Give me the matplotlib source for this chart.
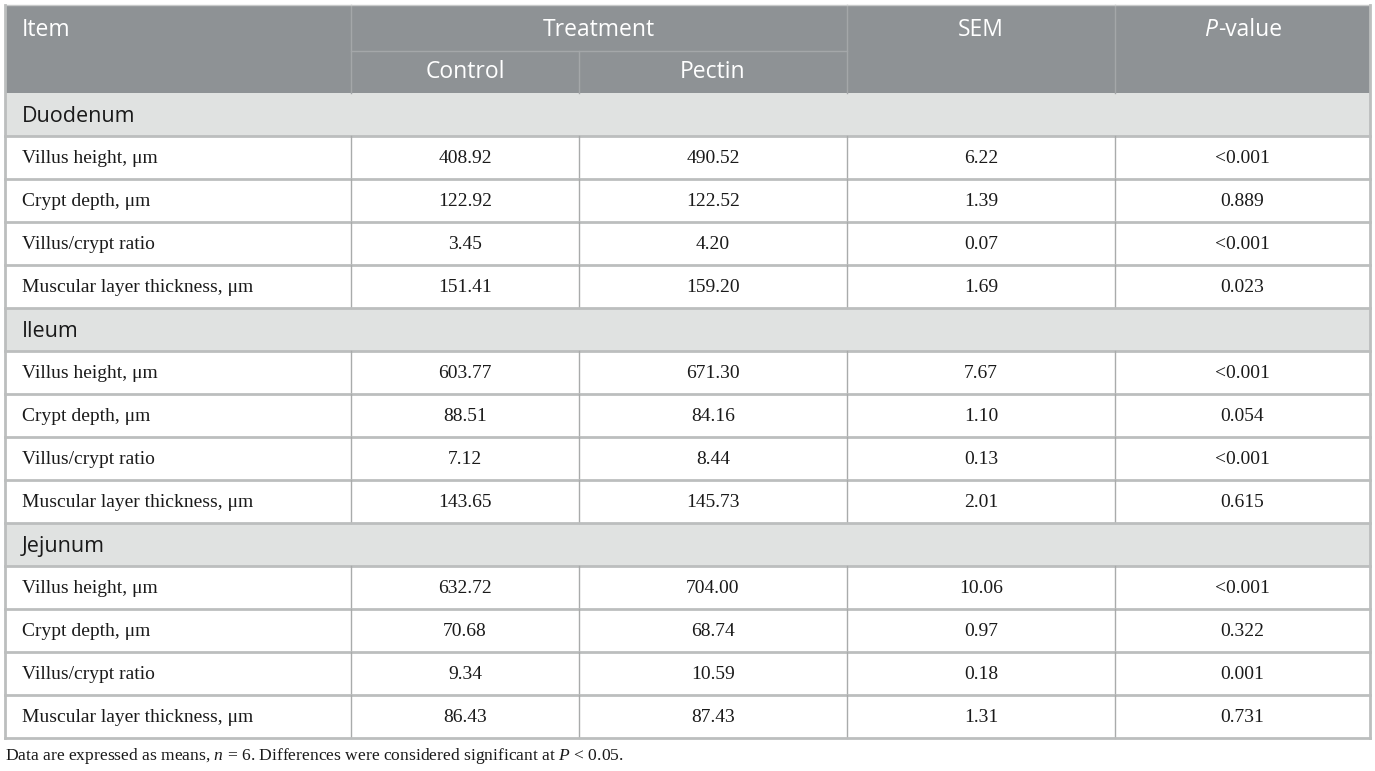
import matplotlib
matplotlib.use("Agg")
import matplotlib.pyplot as plt
from matplotlib.patches import Rectangle

plt.rcParams["mathtext.fontset"] = "custom"
plt.rcParams["mathtext.rm"] = "Liberation Serif"
plt.rcParams["mathtext.it"] = "Liberation Serif:italic"

# Table content
sections = ["Duodenum", "Ileum", "Jejunum"]
items = ["Villus height, \u03bcm", "Crypt depth, \u03bcm", "Villus/crypt ratio",
         "Muscular layer thickness, \u03bcm"]
control = [["408.92", "122.92", "3.45", "151.41"],
           ["603.77", "88.51", "7.12", "143.65"],
           ["632.72", "70.68", "9.34", "86.43"]]
pectin = [["490.52", "122.52", "4.20", "159.20"],
          ["671.30", "84.16", "8.44", "145.73"],
          ["704.00", "68.74", "10.59", "87.43"]]
sem = [["6.22", "1.39", "0.07", "1.69"],
       ["7.67", "1.10", "0.13", "2.01"],
       ["10.06", "0.97", "0.18", "1.31"]]
pvalue = [["<0.001", "0.889", "<0.001", "0.023"],
          ["<0.001", "0.054", "<0.001", "0.615"],
          ["<0.001", "0.322", "0.001", "0.731"]]
footnote = ("Data are expressed as means, $n$ = 6. Differences were considered "
            "significant at $P$ < 0.05.")

W, H = 1375, 771
fig = plt.figure(figsize=(W / 100, H / 100), dpi=100)
ax = fig.add_axes([0, 0, 1, 1])
ax.set_xlim(0, W)
ax.set_ylim(H, 0)
ax.axis("off")

header_bg = "#8e9295"
section_bg = "#e0e2e1"
hline = "#bcbebe"
vline = "#a9abab"
sans = "Open Sans"
serif = "Liberation Serif"

cols = [5, 351, 579, 847, 1115, 1370]
top, head_bot, sub_y = 5, 93, 51
row_h = 43.0

# header
ax.add_patch(Rectangle((cols[0], top), cols[-1] - cols[0], head_bot - top,
                       fc=header_bg, ec="none"))
for x in cols[1:-1]:
    y0 = sub_y if x == cols[2] else top
    ax.plot([x, x], [y0, head_bot], color="#a4a7a9", lw=1)
ax.plot([cols[1], cols[3]], [sub_y, sub_y], color="#a4a7a9", lw=1)
ax.plot([cols[0], cols[-1]], [top, top], color="#c8caca", lw=1)

hkw = dict(color="white", fontsize=16.5, family=sans, va="center")
ax.text(cols[0] + 17, 30, "Item", ha="left", **hkw)
ax.text((cols[1] + cols[3]) / 2, 30, "Treatment", ha="center", **hkw)
ax.text((cols[1] + cols[2]) / 2, 72, "Control", ha="center", **hkw)
ax.text((cols[2] + cols[3]) / 2, 72, "Pectin", ha="center", **hkw)
ax.text((cols[3] + cols[4]) / 2, 30, "SEM", ha="center", **hkw)

# "P-value" with italic P, centred as a whole
renderer = fig.canvas.get_renderer()
tp = ax.text(0, 30, "P", ha="left", style="italic", **hkw)
tv = ax.text(0, 30, "-value", ha="left", **hkw)
wp = tp.get_window_extent(renderer).width
wv = tv.get_window_extent(renderer).width
x0 = (cols[4] + cols[5]) / 2 - (wp + wv) / 2
tp.set_x(x0)
tv.set_x(x0 + wp + 1)

# body
y = head_bot
dkw = dict(color="#1a1a1a", fontsize=14, family=serif, va="center")
for s, sec in enumerate(sections):
    ax.add_patch(Rectangle((cols[0], y), cols[-1] - cols[0], row_h,
                           fc=section_bg, ec="none"))
    ax.text(cols[0] + 17, y + row_h / 2 + 2, sec, ha="left", color="#1a1a1a",
            fontsize=15.5, family=sans, va="center")
    ax.plot([cols[0], cols[-1]], [y + row_h, y + row_h], color=hline, lw=2)
    y += row_h
    for i, item in enumerate(items):
        cells = [control[s][i], pectin[s][i], sem[s][i], pvalue[s][i]]
        ax.text(cols[0] + 17, y + row_h / 2 + 1, item, ha="left", **dkw)
        for c, val in enumerate(cells):
            ax.text((cols[c + 1] + cols[c + 2]) / 2, y + row_h / 2 + 1, val,
                    ha="center", **dkw)
        for x in cols[1:-1]:
            ax.plot([x, x], [y, y + row_h], color=vline, lw=1)
        ax.plot([cols[0], cols[-1]], [y + row_h, y + row_h], color=hline, lw=2)
        y += row_h

# outer borders
ax.plot([cols[0], cols[0]], [top, y], color=hline, lw=2)
ax.plot([cols[-1], cols[-1]], [top, y], color=hline, lw=2)

ax.text(cols[0], 756, footnote, ha="left", va="center", color="#1a1a1a",
        fontsize=12.6, family=serif)

fig.savefig("out.png", dpi=100)
